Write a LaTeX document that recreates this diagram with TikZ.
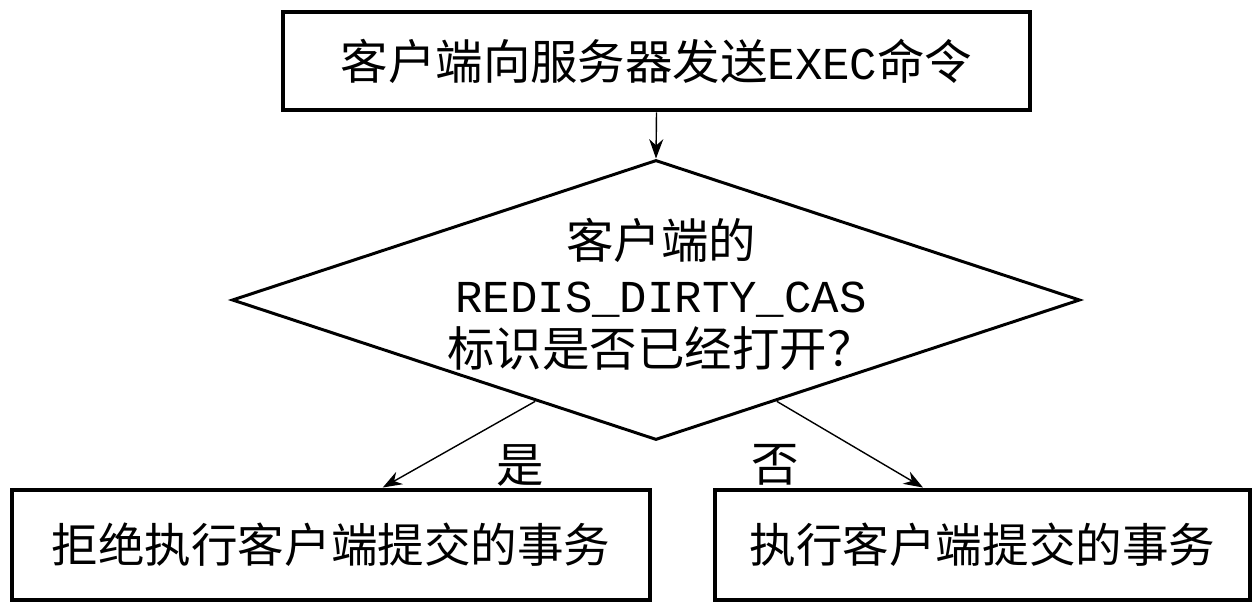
\documentclass[tikz,border=0pt]{standalone}
\usepackage{fontspec}
\setmonofont{Liberation Mono}
\newfontfamily\cjk{Noto Sans CJK SC}
\usetikzlibrary{shapes.geometric,arrows.meta}

\begin{document}
\begin{tikzpicture}[
    box/.style={draw, line width=2.8pt, inner sep=0pt},
    link/.style={-{Stealth[length=11pt,width=8pt]}, line width=0.8pt},
    word/.style={font=\cjk\fontsize{27}{30.7}\selectfont},
    ]
    \useasboundingbox (0,0) rectangle (25.08,12.04);

    % Request from the client
    \node[box, word, minimum width=14.94cm, minimum height=1.96cm] (exec) at (13.13,10.82)
        {客户端向服务器发送{\ttfamily\fontsize{26}{30.7}\selectfont EXEC}命令};

    % Flag check
    \node[draw, diamond, line width=1.7pt, minimum width=16.96cm, minimum height=5.6cm, inner sep=0pt] (check) at (13.12,6.04) {};
    \node[word, align=center] (checktext) at (13.22,6.16)
        {客户端的\\{\ttfamily\fontsize{26}{30.7}\selectfont REDIS\_DIRTY\_CAS}\\标识是否已经打开？};

    % Outcomes
    \node[box, word, font=\cjk\fontsize{26.5}{30}\selectfont, minimum width=12.76cm, minimum height=2.2cm] (reject) at (6.62,1.14) {拒绝执行客户端提交的事务};
    \node[box, word, font=\cjk\fontsize{26.5}{30}\selectfont, minimum width=10.7cm, minimum height=2.2cm] (accept) at (19.65,1.14) {执行客户端提交的事务};

    \draw[link] (exec.south) -- (check.north);
    \draw[link] (check.220) -- (reject.48);
    \draw[link] (check.320) -- (accept.136);

    \node[word] (yes) at (10.4,2.74) {是};
    \node[word] (no) at (15.5,2.74) {否};
\end{tikzpicture}
\end{document}
